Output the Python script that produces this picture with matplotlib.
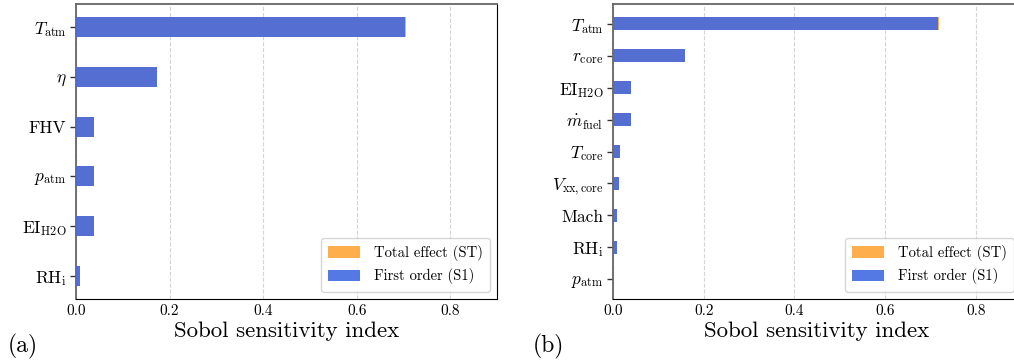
import matplotlib
matplotlib.use("Agg")
import matplotlib.pyplot as plt
import numpy as np

plt.rcParams["font.family"] = ["cmr10", "DejaVu Serif"]
plt.rcParams["mathtext.fontset"] = "cm"
plt.rcParams["axes.formatter.use_mathtext"] = True

# Panel (a): contrail inputs
labels_a = [r"$T_{\mathrm{atm}}$", r"$\eta$", "FHV", r"$p_{\mathrm{atm}}$",
            r"$\mathrm{EI}_{\mathrm{H2O}}$", r"$\mathrm{RH}_{\mathrm{i}}$"]
st_a = [0.706, 0.174, 0.038, 0.038, 0.038, 0.0085]
s1_a = [0.704, 0.173, 0.038, 0.038, 0.038, 0.0085]

# Panel (b): plume inputs
labels_b = [r"$T_{\mathrm{atm}}$", r"$r_{\mathrm{core}}$", r"$\mathrm{EI}_{\mathrm{H2O}}$",
            r"$\dot{m}_{\mathrm{fuel}}$", r"$T_{\mathrm{core}}$", r"$V_{\mathrm{xx,core}}$",
            "Mach", r"$\mathrm{RH}_{\mathrm{i}}$", r"$p_{\mathrm{atm}}$"]
st_b = [0.720, 0.159, 0.040, 0.040, 0.016, 0.0125, 0.0095, 0.008, 0.0006]
s1_b = [0.718, 0.159, 0.039, 0.039, 0.016, 0.0125, 0.008, 0.008, 0.0005]

xticks = [0.0, 0.2, 0.4, 0.6, 0.8]

W, H = 1014, 360
fig = plt.figure(figsize=(W / 100, H / 100), dpi=100)
ax_a = fig.add_axes([76 / W, 1 - 299 / H, 421 / W, 295 / H])
ax_b = fig.add_axes([613 / W, 1 - 299 / H, 408 / W, 295 / H])


def draw(ax, labels, st, s1):
    y = np.arange(len(labels))
    ax.barh(y, st, height=0.4, color="darkorange", alpha=0.7,
            label="Total effect (ST)", zorder=2)
    ax.barh(y, s1, height=0.4, color="royalblue", alpha=0.9,
            label="First order (S1)", zorder=3)
    ax.set_yticks(y)
    ax.set_yticklabels(labels, fontsize=12.5)
    ax.invert_yaxis()
    ax.set_xlim(0, 0.9)
    ax.set_xticks(xticks)
    ax.set_xticklabels([f"{t:.1f}" for t in xticks], fontsize=11)
    ax.tick_params(axis="x", length=0, pad=4)
    ax.tick_params(axis="y", length=4, width=1, color="#333333", pad=3)
    ax.grid(axis="x", linestyle="--", color="#d4d4d4", linewidth=0.8, zorder=0)
    ax.set_axisbelow(True)
    for side in ("left", "top"):
        ax.spines[side].set_color("#666666")
        ax.spines[side].set_linewidth(1.3)
    for side in ("bottom", "right"):
        ax.spines[side].set_color("black")
    ax.set_xlabel("Sobol sensitivity index", fontsize=16.5, labelpad=2)
    ax.legend(loc="lower right", fontsize=10.5, handlelength=2.2,
              handleheight=0.85, handletextpad=0.9, borderpad=0.5,
              framealpha=0.8)


draw(ax_a, labels_a, st_a, s1_a)
draw(ax_b, labels_b, st_b, s1_b)

fig.text(8 / W, 1 - 346 / H, "(a)", fontsize=17, va="center", ha="left")
fig.text(533 / W, 1 - 346 / H, "(b)", fontsize=17, va="center", ha="left")

fig.savefig("out.png", dpi=100)
